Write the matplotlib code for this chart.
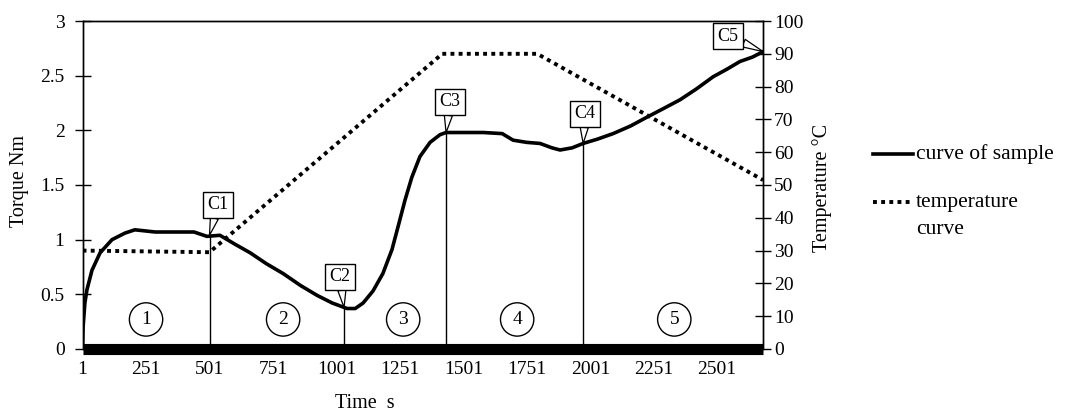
import matplotlib
matplotlib.use('Agg')
import matplotlib.pyplot as plt
from matplotlib.lines import Line2D

plt.rcParams['font.family'] = ['Liberation Serif', 'DejaVu Serif']

# torque curve of the sample (time s, torque Nm)
time = [1, 3, 10, 18, 38, 70, 117, 168, 207, 287, 365, 440, 491, 542, 600,
        661, 725, 791, 860, 925, 985, 1043, 1075, 1106, 1145, 1184, 1220,
        1244, 1271, 1298, 1330, 1370, 1409, 1433, 1500, 1580, 1654, 1697,
        1750, 1803, 1850, 1882, 1930, 1973, 2030, 2091, 2160, 2224, 2290,
        2355, 2420, 2485, 2540, 2591, 2640, 2682]
torque = [0.0, 0.2, 0.42, 0.54, 0.72, 0.88, 1.0, 1.06, 1.09, 1.07, 1.07,
          1.07, 1.03, 1.04, 0.96, 0.88, 0.78, 0.69, 0.58, 0.49, 0.42, 0.37,
          0.37, 0.42, 0.53, 0.69, 0.91, 1.12, 1.36, 1.57, 1.76, 1.89, 1.96,
          1.98, 1.98, 1.98, 1.97, 1.91, 1.89, 1.88, 1.84, 1.82, 1.84, 1.88,
          1.92, 1.97, 2.04, 2.12, 2.2, 2.28, 2.38, 2.49, 2.56, 2.63, 2.67,
          2.72]

# temperature program (time s, temperature C)
temp_time = [1, 501, 1418, 1792, 2682]
temp = [30, 29.5, 90, 90, 51.5]

# characteristic points and stage numbers
c_names = ['C1', 'C2', 'C3', 'C4', 'C5']
c_time = [501, 1031, 1433, 1973, 2682]
c_torque = [1.04, 0.38, 1.98, 1.88, 2.72]
c_box_time = [535, 1016, 1449, 1981, 2544]
c_box_torque = [1.32, 0.66, 2.26, 2.15, 2.86]
stage_names = ['1', '2', '3', '4', '5']
stage_time = [251, 791, 1264, 1713, 2332]

fig = plt.figure(figsize=(10.67, 4.12), dpi=100)
ax = fig.add_axes([0.0774, 0.153, 0.6378, 0.796])
ax2 = ax.twinx()

ax.plot(time, torque, color='black', lw=2.6, zorder=5)
ax2.plot(temp_time, temp, color='black', lw=2.8, linestyle=(0, (1, 1.1)))
ax.axhline(0, color='black', lw=8, clip_on=False, zorder=4,
           solid_capstyle='butt')

for i in range(4):
    ax.plot([c_time[i], c_time[i]], [0, c_torque[i]], color='black', lw=1)

for name, t, v, bt, bv in zip(c_names, c_time, c_torque, c_box_time, c_box_torque):
    ax.annotate(name, xy=(t, v), xytext=(bt, bv), ha='center', va='center',
                fontsize=13, zorder=8, annotation_clip=False,
                bbox=dict(boxstyle='square,pad=0.25', fc='white', ec='black', lw=1),
                arrowprops=dict(arrowstyle='wedge,tail_width=0.45', fc='white',
                                ec='black', lw=0.9, shrinkA=0, shrinkB=0))

for s, t in zip(stage_names, stage_time):
    ax.text(t, 0.27, s, ha='center', va='center', fontsize=14,
            bbox=dict(boxstyle='circle,pad=0.42', fc='white', ec='black', lw=1))

ax.set_xlim(1, 2682)
ax.set_ylim(0, 3)
ax2.set_ylim(0, 100)
ax.set_xticks([1, 251, 501, 751, 1001, 1251, 1501, 1751, 2001, 2251, 2501])
ax.set_yticks([0, 0.5, 1, 1.5, 2, 2.5, 3])
ax.set_yticklabels(['0', '0.5', '1', '1.5', '2', '2.5', '3'])
ax2.set_yticks(range(0, 101, 10))
ax.tick_params(axis='x', length=0, pad=9, labelsize=14)
ax.tick_params(axis='y', direction='inout', length=12, width=1, pad=7, labelsize=14)
ax2.tick_params(axis='y', direction='inout', length=12, width=1, pad=2, labelsize=14)
for a in (ax, ax2):
    for sp in a.spines.values():
        sp.set_linewidth(1)
ax.spines['bottom'].set_visible(False)
ax2.spines['bottom'].set_visible(False)

fig.text(20 / 1067, 1 - 181 / 412, 'Torque Nm', rotation=90, ha='center',
         va='center', fontsize=14.5)
fig.text(822 / 1067, 1 - 188 / 412, 'Temperature \u00b0C', rotation=90,
         ha='center', va='center', fontsize=14.5)
fig.text(365 / 1067, 1 - 403 / 412, 'Time  s', ha='center', va='center',
         fontsize=14.5)

# legend drawn in figure space
fig.add_artist(Line2D([873 / 1067, 913 / 1067], [1 - 154 / 412] * 2,
                      color='black', lw=2.6))
fig.add_artist(Line2D([873 / 1067, 913 / 1067], [1 - 202 / 412] * 2,
                      color='black', lw=2.8, linestyle=(0, (1, 1.1))))
fig.text(916 / 1067, 1 - 154 / 412, 'curve of sample', ha='left', va='center',
         fontsize=15.5)
fig.text(916 / 1067, 1 - 202 / 412, 'temperature', ha='left', va='center',
         fontsize=15.5)
fig.text(916 / 1067, 1 - 230 / 412, 'curve', ha='left', va='center',
         fontsize=15.5)

fig.savefig('out.png', dpi=100)
